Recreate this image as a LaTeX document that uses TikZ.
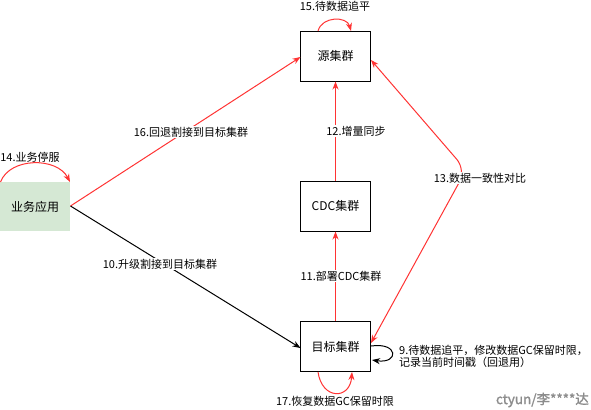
\documentclass[tikz,border=0pt]{standalone}
\usepackage{fontspec}
\setmainfont{Noto Sans CJK SC}
\newfontfamily\cjkb[FakeBold=1.5]{Noto Sans CJK SC}
\usetikzlibrary{arrows.meta}
\definecolor{redline}{RGB}{255,51,51}
\definecolor{appfill}{RGB}{213,232,212}
\tikzset{
  box/.style={draw=black, line width=1bp, minimum width=70bp, minimum height=50bp, inner sep=0pt, font=\fontsize{12bp}{14bp}\selectfont},
  appbox/.style={fill=appfill, draw=none, minimum width=70bp, minimum height=49bp, inner sep=0pt, font=\fontsize{12bp}{14bp}\selectfont},
  lab/.style={font=\fontsize{11bp}{13bp}\selectfont, inner sep=1bp, fill=white},
  rarr/.style={draw=redline, line width=1bp, -{Stealth[length=8bp,width=6bp,inset=2.5bp]}},
  barr/.style={draw=black, line width=1bp, -{Stealth[length=8bp,width=6bp,inset=2.5bp]}},
}
\begin{document}
\begin{tikzpicture}[x=1bp,y=-1bp]
\useasboundingbox (0,0) rectangle (591,409);
\node[box] (src) at (335.5,56) {源集群};
\node[box] (cdc) at (335.5,206) {CDC集群};
\node[box] (tgt) at (335.5,346.5) {目标集群};
\node[appbox] (app) at (35,206.5) {业务应用};

% 14 self loop
\coordinate (a14s) at (0.5,182);
\coordinate (a14e) at (70,182);
\draw[rarr] (a14s) .. controls (10,157) and (57,157) .. (a14e);
\node[lab, fill=none] (l14) at (30,157) {14.业务停服};

% 15 self loop
\coordinate (a15s) at (318,31);
\coordinate (a15e) at (351,31);
\draw[rarr] (a15s) .. controls (322,16) and (347,16) .. (a15e);
\node[lab, fill=none] (l15) at (335,6) {15.待数据追平};

% 16
\coordinate (a16s) at (70.5,206);
\coordinate (a16e) at (300.5,57);
\draw[rarr] (a16s) -- (a16e);
\node[lab] (l16) at (191,132) {16.回退割接到目标集群};

% 10
\coordinate (a10e) at (300.5,348);
\draw[barr] (a16s) -- (a10e);
\node[lab] (l10) at (160,264) {10.升级割接到目标集群};

% 11
\draw[rarr] (tgt.north) -- (cdc.south);
\node[lab] (l11) at (341,276) {11.部署CDC集群};

% 12
\draw[rarr] (cdc.north) -- (src.south);
\node[lab] (l12) at (356,131) {12.增量同步};

% 13
\coordinate (a13s) at (371,343);
\coordinate (a13w) at (466,170);
\coordinate (a13e) at (371,60);
\draw[rarr, {Stealth[length=8bp,width=6bp,inset=2.5bp]}-{Stealth[length=8bp,width=6bp,inset=2.5bp]}, rounded corners=14bp] (a13s) -- (a13w) -- (a13e);
\node[lab] (l13) at (480,178) {13.数据一致性对比};

% 9 self loop
\coordinate (a9s) at (371,346);
\coordinate (a9e) at (372,360);
\draw[barr] (a9s) .. controls (399,342) and (399,364) .. (a9e);
\node[font=\fontsize{11bp}{12bp}\selectfont, align=left, anchor=west, inner sep=0pt] (l9) at (399,356) {9.待数据追平，修改数据GC保留时限，\\记录当前时间戳（回退用）};

% 17 self loop
\coordinate (a17s) at (318,372);
\coordinate (a17e) at (352,372);
\draw[rarr] (a17s) .. controls (322,400) and (350,400) .. (a17e);
\node[lab] (l17) at (335,401) {17.恢复数据GC保留时限};

% watermark
\node[font=\cjkb\fontsize{13.5bp}{15bp}\selectfont, text=black!45, anchor=east, inner sep=0pt] (wm) at (589,400) {ctyun/李****达};
\end{tikzpicture}
\end{document}
